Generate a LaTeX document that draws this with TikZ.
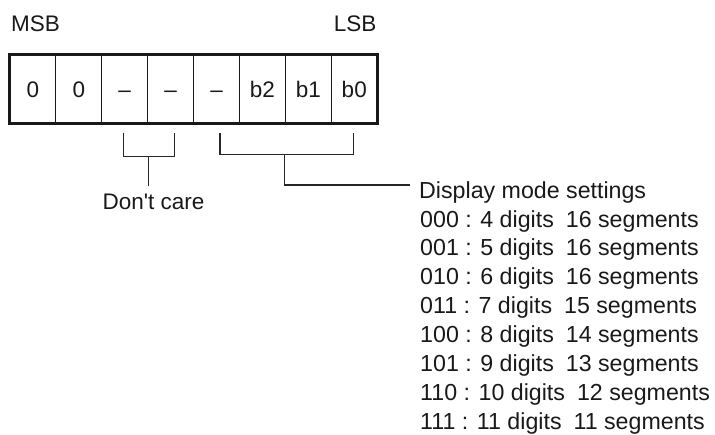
\documentclass[tikz,border=0pt]{standalone}
\usepackage{fontspec}
\setmainfont{Liberation Sans}
\begin{document}
\begin{tikzpicture}[x=1pt,y=-1pt,
  txt/.style={inner sep=0pt, font=\fontsize{22.5}{27}\selectfont, text=black!90},
  lst/.style={txt, font=\fontsize{23.2}{28}\selectfont, anchor=base west},
  cell/.style={draw=black!90, line width=1.1pt, minimum width=45.9pt, minimum height=68pt,
    inner sep=0pt, text height=17pt, text depth=0pt, font=\fontsize{22.5}{27}\selectfont, text=black!90},
  frame/.style={draw=black!90, line width=2.7pt},
  wire/.style={draw=black!85, line width=1.3pt}]
\useasboundingbox (0,0) rectangle (715,434);

% labels
\node[txt, anchor=base west] (msb) at (11,31.5) {MSB};
\node[txt, anchor=base east] (lsb) at (376.5,31.5) {LSB};

% register cells
\foreach \t [count=\i] in {0,0,--,--,--,b2,b1,b0}
  \node[cell] (c\i) at ({10+45.9*(\i-0.5)},89) {\t};
\draw[frame] (c1.north west) rectangle (c8.south east);

% don't care bracket
\coordinate (d1) at (123.3,132.7);
\coordinate (d2) at (174.3,132.7);
\coordinate (dm) at (148.3,156.7);
\node[txt, anchor=base, inner ysep=7pt] (dc) at (153.5,209) {Don\textquotesingle t care};
\draw[wire] (d1) -- ++(0,24) -| (d2);
\draw[wire] (dm) -- (dm |- dc.north);

% display mode bracket
\coordinate (e1) at (220,133.3);
\coordinate (e2) at (353.3,133.3);
\coordinate (em) at (284.3,154.3);
\coordinate (eend) at (410,185);
\draw[wire] (e1) -- ++(0,21) -| (e2);
\draw[wire] (em) |- (eend);

% display mode list
\node[lst] (l0) at (419,198) {Display mode settings};
\foreach \t [count=\i] in {
  {000 : 4 digits\hspace{12pt}16 segments},
  {001 : 5 digits\hspace{12pt}16 segments},
  {010 : 6 digits\hspace{12pt}16 segments},
  {011 : 7 digits\hspace{12pt}15 segments},
  {100 : 8 digits\hspace{12pt}14 segments},
  {101 : 9 digits\hspace{12pt}13 segments},
  {110 : 10 digits\hspace{12pt}12 segments},
  {111 : 11 digits\hspace{12pt}11 segments}}
  \node[lst] (l\i) at (420,{227+28.9*(\i-1)}) {\t};
\end{tikzpicture}
\end{document}
